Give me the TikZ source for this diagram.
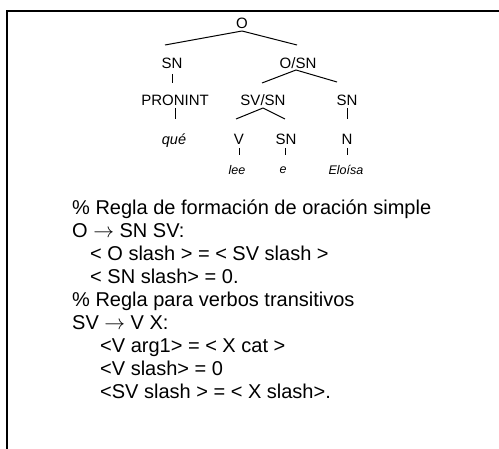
\documentclass[tikz,border=0pt]{standalone}
\usepackage{fontspec}
\setmainfont{Liberation Sans}
\usetikzlibrary{calc}
\newcommand{\rarr}{\ensuremath{\rightarrow}}
\tikzset{
  cat/.style={font=\fontsize{15}{17}\selectfont, inner sep=0pt},
  leaf/.style={font=\fontsize{14.5}{16}\selectfont\itshape, inner sep=0pt},
  word/.style={font=\fontsize{12.5}{14}\selectfont\itshape, inner sep=0pt},
  rule/.style={font=\fontsize{20}{23}\selectfont, anchor=base west, inner sep=0pt},
  edge/.style={line width=1pt},
  frame/.style={line width=1.4pt}
}
\begin{document}
\begin{tikzpicture}[x=1pt,y=-1pt]
\useasboundingbox (0,0) rectangle (499,449);
% frame
\coordinate (fa) at (7,449);
\coordinate (fb) at (7,11);
\coordinate (fc) at (499,11);
\draw[frame] (fa) -- (fb) -- (fc);
% tree nodes
\node[cat] (O) at (242,23) {O};
\node[cat] (SNa) at (172,63) {SN};
\node[cat] (OSN) at (298,63) {O/SN};
\node[cat] (PRON) at (175,100) {PRONINT};
\node[cat] (SVSN) at (263,100) {SV/SN};
\node[cat] (SNb) at (347,100) {SN};
\node[leaf] (que) at (174,141) {qué};
\node[cat] (V) at (239,139) {V};
\node[cat] (SNc) at (286,139) {SN};
\node[cat] (N) at (347,139) {N};
\node[word] (lee) at (237,170) {lee};
\node[word] (e) at (283,170) {e};
\node[word] (Eloisa) at (346,170) {Eloísa};
% tree edges
\draw[edge] ($(O)+(0,8)$) -- ($(SNa)+(-7,-18)$);
\draw[edge] ($(O)+(0,8)$) -- ($(OSN)+(-1,-18)$);
\draw[edge] ($(SNa)+(0,11)$) -- ($(SNa)+(0,20)$);
\draw[edge] ($(OSN)+(-2,7)$) -- ($(SVSN)+(-1,-17)$);
\draw[edge] ($(OSN)+(-2,7)$) -- ($(SNb)+(-10,-18)$);
\draw[edge] ($(PRON)+(0,8)$) -- ($(PRON)+(0,19)$);
\draw[edge] ($(SVSN)+(0,8)$) -- ($(V)+(-3,-20)$);
\draw[edge] ($(SVSN)+(0,8)$) -- ($(SNc)+(-1,-20)$);
\draw[edge] ($(SNb)+(0,8)$) -- ($(SNb)+(0,19)$);
\draw[edge] ($(V)+(0,9)$) -- ($(V)+(0,16)$);
\draw[edge] ($(SNc)+(-1,9)$) -- ($(SNc)+(-1,16)$);
\draw[edge] ($(N)+(0,9)$) -- ($(N)+(0,16)$);
% rules
\node[rule] (t1) at (72,215) {\% Regla de formación de oración simple};
\node[rule] (t2) at (72,238) {O \rarr{} SN SV:};
\node[rule] (t3) at (90,261) {< O slash > = < SV slash >};
\node[rule] (t4) at (90,284) {< SN slash> = 0.};
\node[rule] (t5) at (72,307) {\% Regla para verbos transitivos};
\node[rule] (t6) at (72,330) {SV \rarr{} V X:};
\node[rule] (t7) at (100,353) {<V arg1> = < X cat >};
\node[rule] (t8) at (100,376) {<V slash> = 0};
\node[rule] (t9) at (100,399) {<SV slash > = < X slash>.};
\end{tikzpicture}
\end{document}
